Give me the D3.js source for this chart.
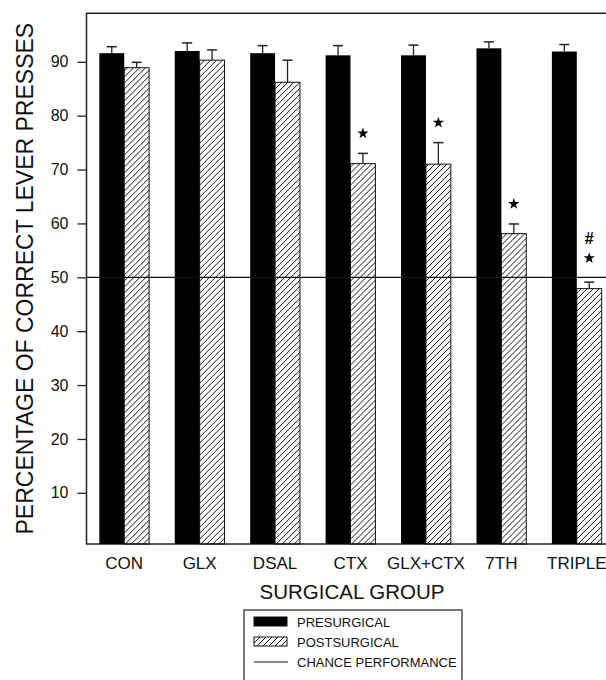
<!DOCTYPE html>
<html>
<head>
<meta charset="utf-8">
<script src="https://cdn.jsdelivr.net/npm/d3@7"></script>
<style>
  body { margin: 0; background: #fff; }
  svg { display: block; font-family: "Liberation Sans", Arial, sans-serif; }
</style>
</head>
<body>
<svg width="606" height="680"></svg>
<script>
// data
const groups = ['CON', 'GLX', 'DSAL', 'CTX', 'GLX+CTX', '7TH', 'TRIPLE'];
const preMeans = [91.6, 92.0, 91.6, 91.2, 91.2, 92.5, 91.9];
const preErr = [1.2, 1.5, 1.4, 1.8, 1.9, 1.2, 1.3];
const postMeans = [88.9, 90.3, 86.2, 71.1, 71.0, 58.1, 47.9];
const postErr = [1.0, 1.9, 4.1, 1.9, 4.0, 1.8, 1.2];
const marks = ['', '', '', '*', '*', '*', '#*'];
const yTicks = [10, 20, 30, 40, 50, 60, 70, 80, 90];
const chance = 50;
const seriesNames = ['PRESURGICAL', 'POSTSURGICAL'];

const svg = d3.select('svg');

// hatch pattern for postsurgical bars
const defs = svg.append('defs');
defs.append('pattern')
    .attr('id', 'hatch')
    .attr('patternUnits', 'userSpaceOnUse')
    .attr('width', 6)
    .attr('height', 6)
  .append('path')
    .attr('d', 'M0,6 L6,0 M-1,1 L1,-1 M5,7 L7,5')
    .attr('stroke', '#111')
    .attr('stroke-width', 1);

// scales
const x = d3.scaleBand()
    .domain(groups)
    .range([86.5, 614.5])
    .paddingInner(0.34)
    .paddingOuter(0.17);
const sub = d3.scaleBand()
    .domain(seriesNames)
    .range([0, x.bandwidth()]);
const y = d3.scaleLinear()
    .domain([0.5, 99])
    .range([544, 13.3]);

const rows = groups.map((g, i) => ({
    g, pre: preMeans[i], preE: preErr[i], post: postMeans[i], postE: postErr[i], mark: marks[i]
}));

// frame (right side runs off the page)
svg.append('rect')
    .attr('x', x.range()[0])
    .attr('y', y(99))
    .attr('width', x.range()[1] - x.range()[0])
    .attr('height', y(0.5) - y(99))
    .attr('fill', 'none')
    .attr('stroke', '#222')
    .attr('stroke-width', 1.5);

// y axis
const yAxis = svg.append('g')
    .attr('transform', `translate(${x.range()[0]},0)`)
    .call(d3.axisLeft(y).tickValues(yTicks).tickSize(9).tickPadding(9));
yAxis.select('.domain').remove();
yAxis.selectAll('line').attr('stroke', '#222').attr('stroke-width', 1.3);
yAxis.selectAll('text')
    .attr('font-size', 16)
    .attr('font-family', '"Liberation Sans", Arial, sans-serif')
    .attr('fill', '#111');

// x axis labels
const xAxis = svg.append('g')
    .attr('transform', `translate(0,${y(0.5)})`)
    .call(d3.axisBottom(x).tickSize(0).tickPadding(13));
xAxis.select('.domain').remove();
xAxis.selectAll('text')
    .attr('font-size', 17)
    .attr('font-family', '"Liberation Sans", Arial, sans-serif')
    .attr('fill', '#111');

// bars
const grp = svg.selectAll('.grp')
    .data(rows)
    .join('g')
    .attr('class', 'grp')
    .attr('transform', d => `translate(${x(d.g)},0)`);

grp.append('rect')
    .attr('x', sub('PRESURGICAL'))
    .attr('width', sub.bandwidth())
    .attr('y', d => y(d.pre))
    .attr('height', d => y(0.5) - y(d.pre))
    .attr('fill', '#000');

grp.append('rect')
    .attr('x', sub('POSTSURGICAL'))
    .attr('width', sub.bandwidth())
    .attr('y', d => y(d.post))
    .attr('height', d => y(0.5) - y(d.post))
    .attr('fill', 'url(#hatch)')
    .attr('stroke', '#111')
    .attr('stroke-width', 1);

// error bars (upper only)
const cap = 5;
function errBar(sel, key, meanKey, errKey) {
    const cx = sub(key) + sub.bandwidth() / 2;
    sel.append('line')
        .attr('x1', cx).attr('x2', cx)
        .attr('y1', d => y(d[meanKey]))
        .attr('y2', d => y(d[meanKey] + d[errKey]))
        .attr('stroke', '#222').attr('stroke-width', 1.3);
    sel.append('line')
        .attr('x1', cx - cap).attr('x2', cx + cap)
        .attr('y1', d => y(d[meanKey] + d[errKey]))
        .attr('y2', d => y(d[meanKey] + d[errKey]))
        .attr('stroke', '#222').attr('stroke-width', 1.5);
}
errBar(grp, 'PRESURGICAL', 'pre', 'preE');
errBar(grp, 'POSTSURGICAL', 'post', 'postE');

// significance marks
const mx = sub('POSTSURGICAL') + sub.bandwidth() / 2;
grp.filter(d => d.mark.includes('*'))
    .append('path')
    .attr('d', d3.symbol(d3.symbolStar).size(40))
    .attr('transform', d => `translate(${mx},${y(d.post + d.postE) - (d.mark.includes('#') ? 24 : 20)})`)
    .attr('fill', '#000');
grp.filter(d => d.mark.includes('#'))
    .append('text')
    .attr('x', mx)
    .attr('y', d => y(d.post + d.postE) - 44)
    .attr('dy', '0.36em')
    .attr('text-anchor', 'middle')
    .attr('font-size', 16)
    .attr('font-weight', 'bold')
    .text('#');

// chance performance line
svg.append('line')
    .attr('x1', x.range()[0]).attr('x2', x.range()[1])
    .attr('y1', y(chance)).attr('y2', y(chance))
    .attr('stroke', '#111').attr('stroke-width', 1.3);

// axis titles
svg.append('text')
    .attr('transform', `translate(33,${(y(0.5) + y(99)) / 2}) rotate(-90)`)
    .attr('text-anchor', 'middle')
    .attr('font-size', 23)
    .attr('fill', '#111')
    .text('PERCENTAGE OF CORRECT LEVER PRESSES');

svg.append('text')
    .attr('x', 352)
    .attr('y', 599)
    .attr('text-anchor', 'middle')
    .attr('font-size', 20.5)
    .attr('fill', '#111')
    .text('SURGICAL GROUP');

// legend
const legend = svg.append('g').attr('transform', 'translate(244,610)');
legend.append('rect')
    .attr('width', 218).attr('height', 80)
    .attr('fill', 'none').attr('stroke', '#222').attr('stroke-width', 1.2);

const legendItems = [
    { label: seriesNames[0], kind: 'solid' },
    { label: seriesNames[1], kind: 'hatch' },
    { label: 'CHANCE PERFORMANCE', kind: 'line' }
];
const li = legend.selectAll('.li')
    .data(legendItems)
    .join('g')
    .attr('class', 'li')
    .attr('transform', (d, i) => `translate(10,${7 + i * 20})`);

li.filter(d => d.kind !== 'line')
    .append('rect')
    .attr('width', 33).attr('height', 9)
    .attr('fill', d => d.kind === 'solid' ? '#000' : 'url(#hatch)')
    .attr('stroke', '#111').attr('stroke-width', 1);
li.filter(d => d.kind === 'line')
    .append('line')
    .attr('x1', 0).attr('x2', 34)
    .attr('y1', 5).attr('y2', 5)
    .attr('stroke', '#111').attr('stroke-width', 1.2);
li.append('text')
    .attr('x', 43)
    .attr('y', 10)
    .attr('font-size', 13)
    .attr('fill', '#111')
    .text(d => d.label);
</script>
</body>
</html>
